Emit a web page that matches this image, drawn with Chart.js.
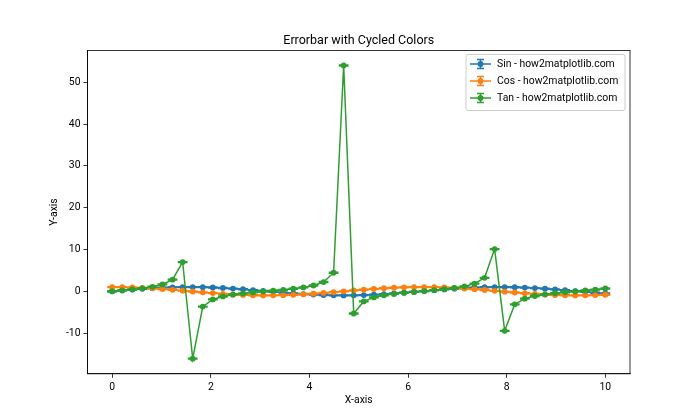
<!DOCTYPE html>
<html>
<head>
<meta charset="utf-8">
<script src="https://cdn.jsdelivr.net/npm/chart.js@4.4.1/dist/chart.umd.min.js"></script>
<style>
  body { margin: 0; background: #fff; }
  #wrap { width: 700px; height: 420px; }
</style>
</head>
<body>
<div id="wrap"><canvas id="chart" width="700" height="420"></canvas></div>
<script>
// values (x from 0 to 10, 50 points)
const xValues = [0, 0.204, 0.408, 0.612, 0.816, 1.020, 1.224, 1.429, 1.633, 1.837,
    2.041, 2.245, 2.449, 2.653, 2.857, 3.061, 3.265, 3.469, 3.673, 3.878,
    4.082, 4.286, 4.490, 4.694, 4.898, 5.102, 5.306, 5.510, 5.714, 5.918,
    6.122, 6.327, 6.531, 6.735, 6.939, 7.143, 7.347, 7.551, 7.755, 7.959,
    8.163, 8.367, 8.571, 8.776, 8.980, 9.184, 9.388, 9.592, 9.796, 10];
const sinValues = [0, 0.203, 0.397, 0.575, 0.729, 0.852, 0.941, 0.990, 0.998, 0.965,
    0.892, 0.781, 0.639, 0.469, 0.281, 0.080, -0.123, -0.322, -0.507, -0.671,
    -0.808, -0.910, -0.975, -1.000, -0.983, -0.925, -0.829, -0.698, -0.539, -0.357,
    -0.160, 0.043, 0.245, 0.436, 0.610, 0.758, 0.874, 0.954, 0.995, 0.994,
    0.953, 0.871, 0.753, 0.605, 0.431, 0.239, 0.037, -0.166, -0.363, -0.544];
const cosValues = [1, 0.979, 0.918, 0.818, 0.685, 0.523, 0.339, 0.142, -0.062, -0.263,
    -0.453, -0.624, -0.770, -0.883, -0.960, -0.997, -0.992, -0.947, -0.862, -0.741,
    -0.590, -0.414, -0.221, -0.019, 0.185, 0.380, 0.559, 0.716, 0.843, 0.934,
    0.987, 0.999, 0.970, 0.900, 0.793, 0.653, 0.486, 0.298, 0.099, -0.105,
    -0.304, -0.491, -0.657, -0.797, -0.903, -0.971, -0.999, -0.986, -0.932, -0.839];
const tanValues = [0, 0.207, 0.432, 0.702, 1.064, 1.630, 2.771, 6.983, -16.145, -3.671,
    -1.969, -1.252, -0.830, -0.532, -0.292, -0.081, 0.124, 0.340, 0.588, 0.906,
    1.369, 2.200, 4.418, 54.016, -5.327, -2.435, -1.482, -0.976, -0.639, -0.382,
    -0.162, 0.043, 0.253, 0.485, 0.769, 1.161, 1.800, 3.199, 10.080, -9.470,
    -3.130, -1.774, -1.146, -0.759, -0.477, -0.246, -0.037, 0.169, 0.389, 0.648];
const yErr = 0.1;
const seriesLabels = ['Sin - how2matplotlib.com', 'Cos - how2matplotlib.com', 'Tan - how2matplotlib.com'];
const chartTitle = 'Errorbar with Cycled Colors';
const xTicks = [0, 2, 4, 6, 8, 10];
const yTicks = [-10, 0, 10, 20, 30, 40, 50];

const colors = ['#1f77b4', '#ff7f0e', '#2ca02c'];
const fontFamily = 'Roboto, "DejaVu Sans", sans-serif';

function toPoints(ys) {
    return xValues.map((x, i) => ({ x: x, y: ys[i] }));
}

// vertical error bars with caps, drawn right after each dataset
const errorBars = {
    id: 'errorBars',
    afterDatasetDraw(chart, args) {
        const ctx = chart.ctx;
        const meta = args.meta;
        const yScale = chart.scales.y;
        const ds = chart.data.datasets[args.index];
        ctx.save();
        ctx.strokeStyle = ds.borderColor;
        ctx.lineWidth = 1.5;
        meta.data.forEach((pt, i) => {
            const v = ds.data[i].y;
            const top = yScale.getPixelForValue(v + yErr);
            const bot = yScale.getPixelForValue(v - yErr);
            ctx.beginPath();
            ctx.moveTo(pt.x, top); ctx.lineTo(pt.x, bot);
            ctx.moveTo(pt.x - 4.9, top); ctx.lineTo(pt.x + 4.9, top);
            ctx.moveTo(pt.x - 4.9, bot); ctx.lineTo(pt.x + 4.9, bot);
            ctx.stroke();
        });
        ctx.restore();
    }
};

// frame round the plot, title over the axes, legend box in the upper right
const frameAndLegend = {
    id: 'frameAndLegend',
    afterDraw(chart) {
        const ctx = chart.ctx;
        const a = chart.chartArea;
        ctx.save();
        ctx.strokeStyle = '#000';
        ctx.lineWidth = 0.8;
        ctx.strokeRect(a.left, a.top, a.right - a.left, a.bottom - a.top);

        ctx.fillStyle = '#000';
        ctx.font = '12.5px ' + fontFamily;
        ctx.textAlign = 'center';
        ctx.textBaseline = 'alphabetic';
        ctx.fillText(chartTitle, (a.left + a.right) / 2, a.top - 6);

        const bx = 466, by = 54.5, bw = 159, bh = 56;
        ctx.fillStyle = 'rgba(255,255,255,0.8)';
        ctx.strokeStyle = '#cccccc';
        ctx.lineWidth = 1;
        ctx.beginPath();
        ctx.roundRect(bx, by, bw, bh, 2);
        ctx.fill();
        ctx.stroke();

        ctx.font = '10.4px ' + fontFamily;
        ctx.textAlign = 'left';
        ctx.textBaseline = 'middle';
        seriesLabels.forEach((label, i) => {
            const cy = 64 + i * 17;
            ctx.strokeStyle = colors[i];
            ctx.fillStyle = colors[i];
            ctx.lineWidth = 1.5;
            ctx.beginPath();
            ctx.moveTo(470, cy); ctx.lineTo(491, cy);
            ctx.moveTo(480.5, cy - 4.5); ctx.lineTo(480.5, cy + 4.5);
            ctx.moveTo(477, cy - 4.5); ctx.lineTo(484, cy - 4.5);
            ctx.moveTo(477, cy + 4.5); ctx.lineTo(484, cy + 4.5);
            ctx.stroke();
            ctx.beginPath();
            ctx.arc(480.5, cy, 2.9, 0, Math.PI * 2);
            ctx.fill();
            ctx.fillStyle = '#000';
            ctx.fillText(label, 497, cy);
        });
        ctx.restore();
    }
};

const ctx = document.getElementById('chart').getContext('2d');
new Chart(ctx, {
    type: 'line',
    data: {
        datasets: [
            { label: seriesLabels[0], data: toPoints(sinValues), order: 2 },
            { label: seriesLabels[1], data: toPoints(cosValues), order: 1 },
            { label: seriesLabels[2], data: toPoints(tanValues), order: 0 }
        ].map((ds, i) => Object.assign(ds, {
            borderColor: colors[i],
            backgroundColor: colors[i],
            borderWidth: 1.5,
            pointRadius: 2.9,
            pointBorderWidth: 0,
            pointHoverRadius: 2.9,
            tension: 0,
            fill: false
        }))
    },
    options: {
        responsive: false,
        animation: false,
        events: [],
        layout: { padding: { left: 0, right: 70, top: 50.4, bottom: 0 } },
        plugins: {
            legend: { display: false },
            tooltip: { enabled: false },
            title: { display: false }
        },
        scales: {
            x: {
                type: 'linear',
                min: -0.5,
                max: 10.5,
                afterBuildTicks: s => { s.ticks = xTicks.map(v => ({ value: v })); },
                afterFit: s => { s.height = 46.2; },
                grid: { drawOnChartArea: false, drawTicks: true, tickLength: 4, color: '#000', lineWidth: 0.8 },
                border: { display: true, color: '#000', width: 0.8 },
                ticks: { color: '#000', padding: 3, maxRotation: 0, font: { family: fontFamily, size: 10.4 } },
                title: {
                    display: true, text: 'X-axis', color: '#000',
                    font: { family: fontFamily, size: 10.4 },
                    padding: { top: 0, bottom: 13 }
                }
            },
            y: {
                type: 'linear',
                min: -19.76,
                max: 57.63,
                afterBuildTicks: s => { s.ticks = yTicks.map(v => ({ value: v })); },
                afterFit: s => { s.width = 87.5; },
                grid: { drawOnChartArea: false, drawTicks: true, tickLength: 4, color: '#000', lineWidth: 0.8 },
                border: { display: true, color: '#000', width: 0.8 },
                ticks: { color: '#000', padding: 3, font: { family: fontFamily, size: 10.4 } },
                title: {
                    display: true, text: 'Y-axis', color: '#000',
                    font: { family: fontFamily, size: 10.4 },
                    padding: { top: 48, bottom: 0 }
                }
            }
        }
    },
    plugins: [errorBars, frameAndLegend]
});
</script>
</body>
</html>
